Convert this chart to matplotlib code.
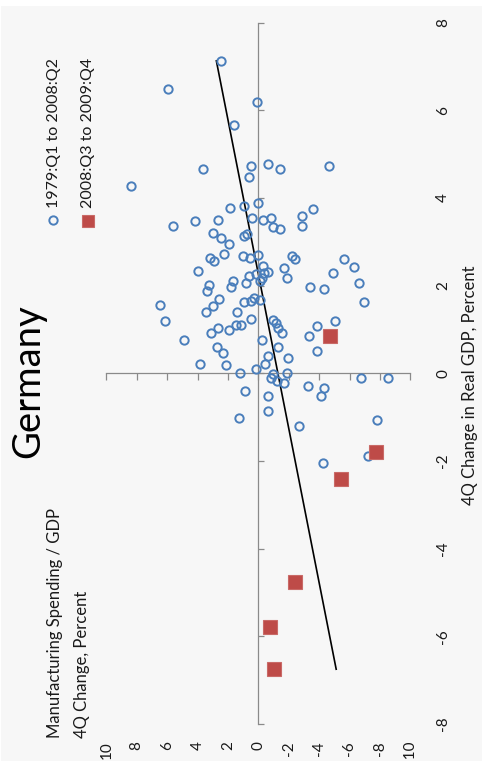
import numpy as np
import matplotlib
matplotlib.use('Agg')
import matplotlib.pyplot as plt
from matplotlib import transforms
from matplotlib.lines import Line2D
from matplotlib.patches import Rectangle

# data: 4Q change in real GDP (%) vs 4Q change in manufacturing spending / GDP (%)
gdp_pre = [7.13, 6.49, 6.18, 5.67, 4.66, 4.72, 4.47, 4.28, 3.78, 3.81, 3.89, 4.77, 4.67, 4.73, 3.76,
           3.36, 3.48, 3.51, 3.55, 3.50, 3.55, 3.35, 3.29, 3.59, 3.36, 3.21, 3.09, 2.95, 3.13, 3.19,
           2.72, 2.67, 2.63, 2.71, 2.63, 2.57, 2.33, 2.21, 2.11, 1.96, 2.05, 2.27, 2.45, 2.30, 2.32,
           2.18, 2.11, 2.40, 2.18, 2.67, 2.62, 1.98, 1.92, 2.28, 2.61, 2.42, 2.05, 1.62, 2.01, 1.87,
           1.70, 1.53, 1.41, 1.56, 1.20, 1.41, 1.62, 1.66, 1.73, 1.68, 1.25, 1.11, 1.11, 0.99, 1.03,
           0.91, 0.76, 0.60, 0.47, 0.22, 0.20, 0.00, 0.10, 0.75, 1.22, 1.15, 1.03, 0.91, 0.61, 0.40,
           0.21, 0.34, 0.00, -0.02, 1.08, 0.86, 1.19, 0.51, -0.10, -0.10, -0.10, -0.18, -0.22, -0.30,
           -0.34, -0.52, -0.41, -0.51, -0.85, -1.02, -1.21, -1.07, -2.04, -1.88]
mfg_pre = [2.45, 5.91, 0.09, 1.58, 3.66, 0.48, 0.59, 8.36, 1.86, 0.92, 0.02, -0.66, -1.45, -4.63, -3.62,
           5.61, 4.18, 2.63, 0.39, -0.30, -0.86, -0.95, -1.45, -2.89, -2.88, 2.98, 2.45, 1.95, 0.94, 0.76,
           2.26, 1.01, 0.53, -0.01, 3.21, 2.91, 3.95, 0.63, 1.66, 1.80, 0.81, 0.17, -0.33, -0.38, -0.64,
           -0.26, -0.11, -1.67, -1.91, -2.20, -2.41, -3.42, -4.34, -4.93, -5.66, -6.28, -6.61, -6.93, 3.22, 3.39,
           2.57, 2.96, 3.45, 6.50, 6.11, 1.38, 0.96, 0.50, 0.30, -0.08, 0.51, 1.45, 1.16, 1.94, 2.67,
           3.09, 4.92, 2.73, 2.34, 3.85, 2.13, 1.20, 0.18, -0.26, -0.95, -1.16, -1.30, -1.58, -1.31, -0.66,
           -0.44, -1.94, -1.87, -0.99, -3.84, -3.36, -5.06, -3.84, -6.78, -8.53, -0.84, -1.21, -1.69, -3.29,
           -4.32, -4.11, 0.89, -0.65, -0.63, 1.24, -2.70, -7.82, -4.28, -7.24]
gdp_crisis = [0.85, -1.79, -2.40, -4.77, -5.78, -6.75]
mfg_crisis = [-4.70, -7.74, -5.46, -2.43, -0.77, -1.03]

# linear trend: mfg = slope * gdp + intercept
trend_slope = 0.568
trend_intercept = -1.29

mfg_ticks = [10, 8, 6, 4, 2, 0, -2, -4, -6, -8, -10]
gdp_ticks = [8, 6, 4, 2, 0, -2, -4, -6, -8]

W, H = 482, 761
FONT = 'Lato'
AXCOL = '#8a8a8a'


def px(x, y):
    return x / W, 1 - y / H


fig = plt.figure(figsize=(W / 100, H / 100), dpi=100, facecolor='white')
fig.patches.append(Rectangle((1 / W, 0), 1, 1 - 6 / H, transform=fig.transFigure,
                             facecolor='#f7f7f7', edgecolor='none', zorder=-10))

ax = fig.add_axes([106.3 / W, 37 / H, 304 / W, 701.3 / H])
ax.set_facecolor('none')
ax.set_xlim(10, -10)
ax.set_ylim(-8, 8)

for s in ['top', 'right']:
    ax.spines[s].set_visible(False)
ax.spines['left'].set_position(('data', 0))
ax.spines['bottom'].set_position(('data', 0))
for s in ['left', 'bottom']:
    ax.spines[s].set_color(AXCOL)
    ax.spines[s].set_linewidth(0.9)
ax.set_xticks(mfg_ticks)
ax.set_yticks(gdp_ticks)
ax.tick_params(axis='y', direction='in', length=4, color=AXCOL, width=0.9, labelleft=False)
ax.tick_params(axis='x', direction='out', length=5, color=AXCOL, width=0.9, labelbottom=False)

g = np.array([min(gdp_pre + gdp_crisis), max(gdp_pre + gdp_crisis)])
ax.plot(trend_slope * g + trend_intercept, g, color='black', lw=1.2, zorder=2)

ax.plot(mfg_pre, gdp_pre, 'o', ms=6, mfc='none', mec='#4a7ebb', mew=1.4, zorder=3)
ax.plot(mfg_crisis, gdp_crisis, 's', ms=9.5, mfc='#be4b48', mec='#c96a67', mew=0.8, zorder=4)

# tick labels (rotated chart)
tx = transforms.blended_transform_factory(ax.transData, fig.transFigure)
for v in mfg_ticks:
    ax.text(v, 1 - 741 / H, str(v), transform=tx, rotation=90, ha='center', va='top',
            fontsize=11, family=FONT, color='#1a1a1a', clip_on=False)
ty = transforms.blended_transform_factory(fig.transFigure, ax.transData)
for v in gdp_ticks:
    ax.text(443 / W, v, str(v), transform=ty, rotation=90, ha='center', va='center',
            fontsize=11, family=FONT, color='#1a1a1a')

# titles
fig.text(*px(28, 381), 'Germany', rotation=90, ha='center', va='center', fontsize=27.5, family=FONT)
fig.text(*px(470, 385), '4Q Change in Real GDP, Percent', rotation=90, ha='center', va='center',
         fontsize=12, family=FONT, color='#1a1a1a')
fig.text(*px(55, 738), 'Manufacturing Spending / GDP', rotation=90, rotation_mode='anchor',
         ha='left', va='center', fontsize=12, family=FONT, color='#1a1a1a')
fig.text(*px(82, 738), '4Q Change, Percent', rotation=90, rotation_mode='anchor',
         ha='left', va='center', fontsize=12, family=FONT, color='#1a1a1a')

# legend
fig.add_artist(Line2D([53 / W], [1 - 220 / H], marker='o', ms=6, mfc='none', mec='#4a7ebb',
                      mew=1.4, transform=fig.transFigure))
fig.add_artist(Line2D([87.5 / W], [1 - 221 / H], marker='s', ms=8, mfc='#be4b48', mec='#c96a67',
                      mew=0.8, transform=fig.transFigure))
fig.text(*px(54, 208), '1979:Q1 to 2008:Q2', rotation=90, rotation_mode='anchor',
         ha='left', va='center', fontsize=11.5, family=FONT, color='#1a1a1a')
fig.text(*px(88, 208), '2008:Q3 to 2009:Q4', rotation=90, rotation_mode='anchor',
         ha='left', va='center', fontsize=11.5, family=FONT, color='#1a1a1a')

fig.savefig('out.png', dpi=100, facecolor=fig.get_facecolor())
